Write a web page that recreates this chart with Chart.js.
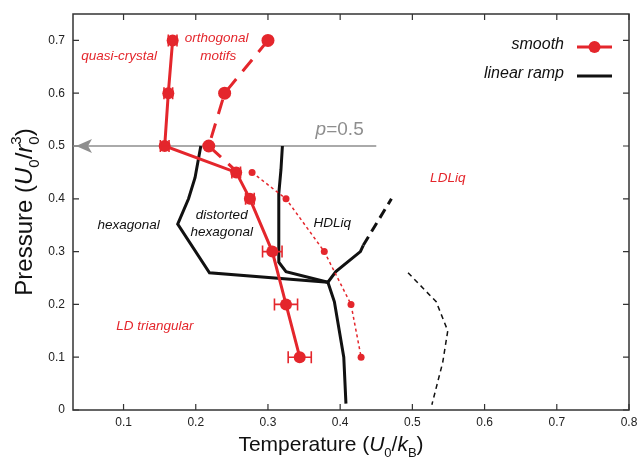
<!DOCTYPE html>
<html>
<head>
<meta charset="utf-8">
<title>Phase diagram</title>
<script src="https://cdn.jsdelivr.net/npm/chart.js@4.4.1/dist/chart.umd.min.js"></script>
<style>
  body { margin: 0; background: #fff; }
  canvas { display: block; }
</style>
</head>
<body>
<canvas id="phaseChart" width="640" height="458"></canvas>
<script>
// axis ticks
const xTicks = [0.1, 0.2, 0.3, 0.4, 0.5, 0.6, 0.7, 0.8];
const yTicks = [0, 0.1, 0.2, 0.3, 0.4, 0.5, 0.6, 0.7];

// smooth potential: melting line with error bars
const smoothT   = [0.168, 0.162, 0.157, 0.256, 0.275, 0.306, 0.325, 0.344];
const smoothP   = [0.7, 0.6, 0.5, 0.45, 0.4, 0.3, 0.2, 0.1];
const smoothErr = [0.006, 0.006, 0.006, 0.006, 0.006, 0.0135, 0.016, 0.016];

// smooth potential: orthogonal motifs boundary (long dashes)
const orthoT = [0.300, 0.240, 0.218, 0.258];
const orthoP = [0.7, 0.6, 0.5, 0.45];

// smooth potential: liquid-liquid line (fine dots)
const liqT = [0.278, 0.325, 0.378, 0.415, 0.429];
const liqP = [0.45, 0.4, 0.3, 0.2, 0.1];

// linear ramp boundaries
const hexT  = [0.207, 0.199, 0.190, 0.175, 0.219, 0.383];
const hexP  = [0.5, 0.44, 0.40, 0.352, 0.26, 0.242];
const distT = [0.320, 0.318, 0.315, 0.315, 0.325, 0.383];
const distP = [0.5, 0.455, 0.41, 0.28, 0.262, 0.242];
const meltT = [0.383, 0.392, 0.405, 0.408];
const meltP = [0.242, 0.205, 0.10, 0.012];
const upT   = [0.383, 0.394, 0.428, 0.432];
const upP   = [0.242, 0.262, 0.30, 0.312];
const upDashT = [0.432, 0.471];
const upDashP = [0.312, 0.40];
const ldlT  = [0.494, 0.533, 0.549, 0.542, 0.527];
const ldlP  = [0.26, 0.205, 0.15, 0.09, 0.01];

// p = 0.5 cut
const cutT = [0.03, 0.45];
const cutP = [0.5, 0.5];

const RED = '#e4262c';
const INK = '#111';
const FONT = '"Liberation Sans", Arial, Helvetica, sans-serif';

function pts(xs, ys) {
    return xs.map((x, i) => ({ x: x, y: ys[i] }));
}

function line(data, color, width, dash, radius) {
    return {
        data: data,
        borderColor: color,
        backgroundColor: color,
        borderWidth: width,
        borderDash: dash || [],
        pointRadius: radius || 0,
        pointHoverRadius: radius || 0,
        pointBorderWidth: 0,
        tension: 0
    };
}

const datasets = [
    Object.assign(line(pts(smoothT, smoothP), RED, 3, null, 6), { label: 'smooth' }),
    Object.assign(line(pts(orthoT, orthoP), RED, 3, [15, 10], [6.5, 6.5, 6.5, 0]), { label: 'orthogonal motifs' }),
    Object.assign(line(pts(liqT, liqP), RED, 1.5, [3, 3], 3.5), { label: 'liquid' }),
    Object.assign(line(pts(hexT, hexP), INK, 3), { label: 'linear ramp' }),
    Object.assign(line(pts(distT, distP), INK, 3), { label: 'distorted' }),
    Object.assign(line(pts(meltT, meltP), INK, 3), { label: 'melt' }),
    Object.assign(line(pts(upT, upP), INK, 3), { label: 'HDLiq' }),
    Object.assign(line(pts(upDashT, upDashP), INK, 3, [10, 6]), { label: 'HDLiq ext' }),
    Object.assign(line(pts(ldlT, ldlP), INK, 1.5, [5, 4]), { label: 'LDLiq' }),
    Object.assign(line(pts(cutT, cutP), '#8e8e8e', 1.5), { label: 'p=0.5' })
];

// region labels, placed in data units
const notes = [
    { text: 'quasi-crystal', t: 0.094, p: 0.670, color: RED },
    { text: 'orthogonal', t: 0.229, p: 0.704, color: RED },
    { text: 'motifs', t: 0.231, p: 0.670, color: RED },
    { text: 'LDLiq', t: 0.549, p: 0.438, color: RED },
    { text: 'LD triangular', t: 0.1435, p: 0.159, color: RED },
    { text: 'hexagonal', t: 0.107, p: 0.349, color: INK },
    { text: 'distorted', t: 0.236, p: 0.368, color: INK },
    { text: 'hexagonal', t: 0.236, p: 0.336, color: INK },
    { text: 'HDLiq', t: 0.389, p: 0.353, color: INK }
];

// draws a run of text pieces with italics, subscripts and superscripts,
// centred on cx along the run, with its baseline at cy
function drawRich(ctx, parts, size, cx, cy, angle) {
    const fontFor = p => (p.it ? 'italic ' : '') + Math.round((p.sub || p.sup) ? size * 0.62 : size) + 'px ' + FONT;
    let total = 0, last = 0;
    parts.forEach(p => {
        ctx.font = fontFor(p);
        const w = ctx.measureText(p.t).width;
        if (p.back) { total += Math.max(0, w - last); } else { total += w; }
        last = w;
    });
    ctx.save();
    ctx.translate(cx, cy);
    ctx.rotate(angle || 0);
    ctx.fillStyle = INK;
    ctx.textBaseline = 'alphabetic';
    ctx.textAlign = 'left';
    let x = -total / 2;
    last = 0;
    parts.forEach(p => {
        ctx.font = fontFor(p);
        const w = ctx.measureText(p.t).width;
        let dy = 0;
        if (p.sub) dy = size * 0.3;
        if (p.sup) dy = -size * 0.45;
        if (p.back) {
            ctx.fillText(p.t, x - last, dy);
            x += Math.max(0, w - last);
        } else {
            ctx.fillText(p.t, x, dy);
            x += w;
        }
        last = w;
    });
    ctx.restore();
}

const framePlugin = {
    id: 'frame',
    beforeDatasetsDraw(chart) {
        const { ctx, chartArea: a, scales } = chart;
        ctx.save();
        ctx.strokeStyle = '#333';
        ctx.lineWidth = 1.5;
        ctx.strokeRect(a.left, a.top, a.right - a.left, a.bottom - a.top);
        ctx.lineWidth = 1.2;
        ctx.beginPath();
        xTicks.forEach(v => {
            const px = scales.x.getPixelForValue(v);
            ctx.moveTo(px, a.bottom); ctx.lineTo(px, a.bottom - 6);
            ctx.moveTo(px, a.top); ctx.lineTo(px, a.top + 6);
        });
        yTicks.forEach(v => {
            const py = scales.y.getPixelForValue(v);
            ctx.moveTo(a.left, py); ctx.lineTo(a.left + 6, py);
            ctx.moveTo(a.right, py); ctx.lineTo(a.right - 6, py);
        });
        ctx.stroke();
        ctx.restore();
    }
};

const overlayPlugin = {
    id: 'overlay',
    afterDatasetsDraw(chart) {
        const { ctx, scales } = chart;
        const sx = scales.x, sy = scales.y;

        // horizontal error bars on the smooth melting line
        ctx.save();
        ctx.strokeStyle = RED;
        ctx.lineWidth = 1.6;
        smoothT.forEach((t, i) => {
            const y = sy.getPixelForValue(smoothP[i]);
            const x0 = sx.getPixelForValue(t - smoothErr[i]);
            const x1 = sx.getPixelForValue(t + smoothErr[i]);
            ctx.beginPath();
            ctx.moveTo(x0, y); ctx.lineTo(x1, y);
            ctx.moveTo(x0, y - 6); ctx.lineTo(x0, y + 6);
            ctx.moveTo(x1, y - 6); ctx.lineTo(x1, y + 6);
            ctx.stroke();
        });
        ctx.restore();

        // arrow head on the p = 0.5 cut
        const ax = sx.getPixelForValue(cutT[0]) + 3;
        const ay = sy.getPixelForValue(cutP[0]);
        ctx.save();
        ctx.fillStyle = '#8e8e8e';
        ctx.beginPath();
        ctx.moveTo(ax, ay);
        ctx.lineTo(ax + 16, ay - 7);
        ctx.lineTo(ax + 12, ay);
        ctx.lineTo(ax + 16, ay + 7);
        ctx.closePath();
        ctx.fill();
        ctx.restore();

        // p = 0.5 label
        ctx.save();
        ctx.fillStyle = '#8e8e8e';
        ctx.textBaseline = 'middle';
        ctx.textAlign = 'left';
        const lx = sx.getPixelForValue(0.366);
        const ly = sy.getPixelForValue(0.531);
        ctx.font = 'italic 19px ' + FONT;
        ctx.fillText('p', lx, ly);
        const pw = ctx.measureText('p').width;
        ctx.font = '19px ' + FONT;
        ctx.fillText('=0.5', lx + pw, ly);
        ctx.restore();

        // region labels
        ctx.save();
        ctx.font = 'italic 13.5px ' + FONT;
        ctx.textAlign = 'center';
        ctx.textBaseline = 'middle';
        notes.forEach(n => {
            ctx.fillStyle = n.color;
            ctx.fillText(n.text, sx.getPixelForValue(n.t), sy.getPixelForValue(n.p));
        });
        ctx.restore();
    },
    afterDraw(chart) {
        const { ctx, chartArea: a } = chart;

        // legend, text first then the line sample
        const rows = [
            { text: datasets[0].label, color: RED, dot: true },
            { text: datasets[3].label, color: INK, dot: false }
        ];
        ctx.save();
        ctx.font = 'italic 16px ' + FONT;
        ctx.textAlign = 'right';
        ctx.textBaseline = 'middle';
        rows.forEach((r, i) => {
            const y = a.top + 32 + i * 29;
            ctx.fillStyle = INK;
            ctx.fillText(r.text, a.right - 65, y - 1);
            ctx.strokeStyle = r.color;
            ctx.lineWidth = 3;
            ctx.beginPath();
            ctx.moveTo(a.right - 52, y + 1);
            ctx.lineTo(a.right - 17, y + 1);
            ctx.stroke();
            if (r.dot) {
                ctx.fillStyle = r.color;
                ctx.beginPath();
                ctx.arc(a.right - 34.5, y + 1, 6, 0, Math.PI * 2);
                ctx.fill();
            }
        });
        ctx.restore();

        // axis titles
        drawRich(ctx, [
            { t: 'Temperature (' }, { t: 'U', it: true }, { t: '0', sub: true },
            { t: '/' }, { t: 'k', it: true }, { t: 'B', sub: true }, { t: ')' }
        ], 20.5, 331, 451, 0);
        drawRich(ctx, [
            { t: 'Pressure (' }, { t: 'U', it: true }, { t: '0', sub: true },
            { t: '/' }, { t: 'r', it: true }, { t: '0', sub: true }, { t: '3', sup: true, back: true },
            { t: ')' }
        ], 23.5, 32, 212, -Math.PI / 2);
    }
};

function drawChart() {
    const ctx = document.getElementById('phaseChart').getContext('2d');

    new Chart(ctx, {
        type: 'line',
        data: { datasets: datasets },
        options: {
            responsive: false,
            animation: false,
            devicePixelRatio: 1,
            layout: { padding: { top: 14, right: 11, left: 0, bottom: 0 } },
            plugins: {
                legend: { display: false },
                tooltip: { enabled: false }
            },
            scales: {
                x: {
                    type: 'linear',
                    min: 0.03,
                    max: 0.8,
                    grid: { display: false, drawTicks: false },
                    border: { display: false },
                    afterBuildTicks: scale => { scale.ticks = xTicks.map(v => ({ value: v })); },
                    afterFit: scale => {
                        scale.height = 48;
                        scale.paddingLeft = 0;
                        scale.paddingRight = 0;
                    },
                    ticks: {
                        font: { family: FONT, size: 12 },
                        color: '#222',
                        padding: 5,
                        maxRotation: 0,
                        autoSkip: false,
                        callback: v => String(v)
                    }
                },
                y: {
                    type: 'linear',
                    min: 0,
                    max: 0.75,
                    grid: { display: false, drawTicks: false },
                    border: { display: false },
                    afterBuildTicks: scale => { scale.ticks = yTicks.map(v => ({ value: v })); },
                    afterFit: scale => {
                        scale.width = 73;
                        scale.paddingTop = 0;
                        scale.paddingBottom = 0;
                    },
                    ticks: {
                        font: { family: FONT, size: 12 },
                        color: '#222',
                        padding: 8,
                        autoSkip: false,
                        callback: v => String(v)
                    }
                }
            }
        },
        plugins: [framePlugin, overlayPlugin]
    });
}

document.addEventListener("DOMContentLoaded", drawChart);
</script>
</body>
</html>
